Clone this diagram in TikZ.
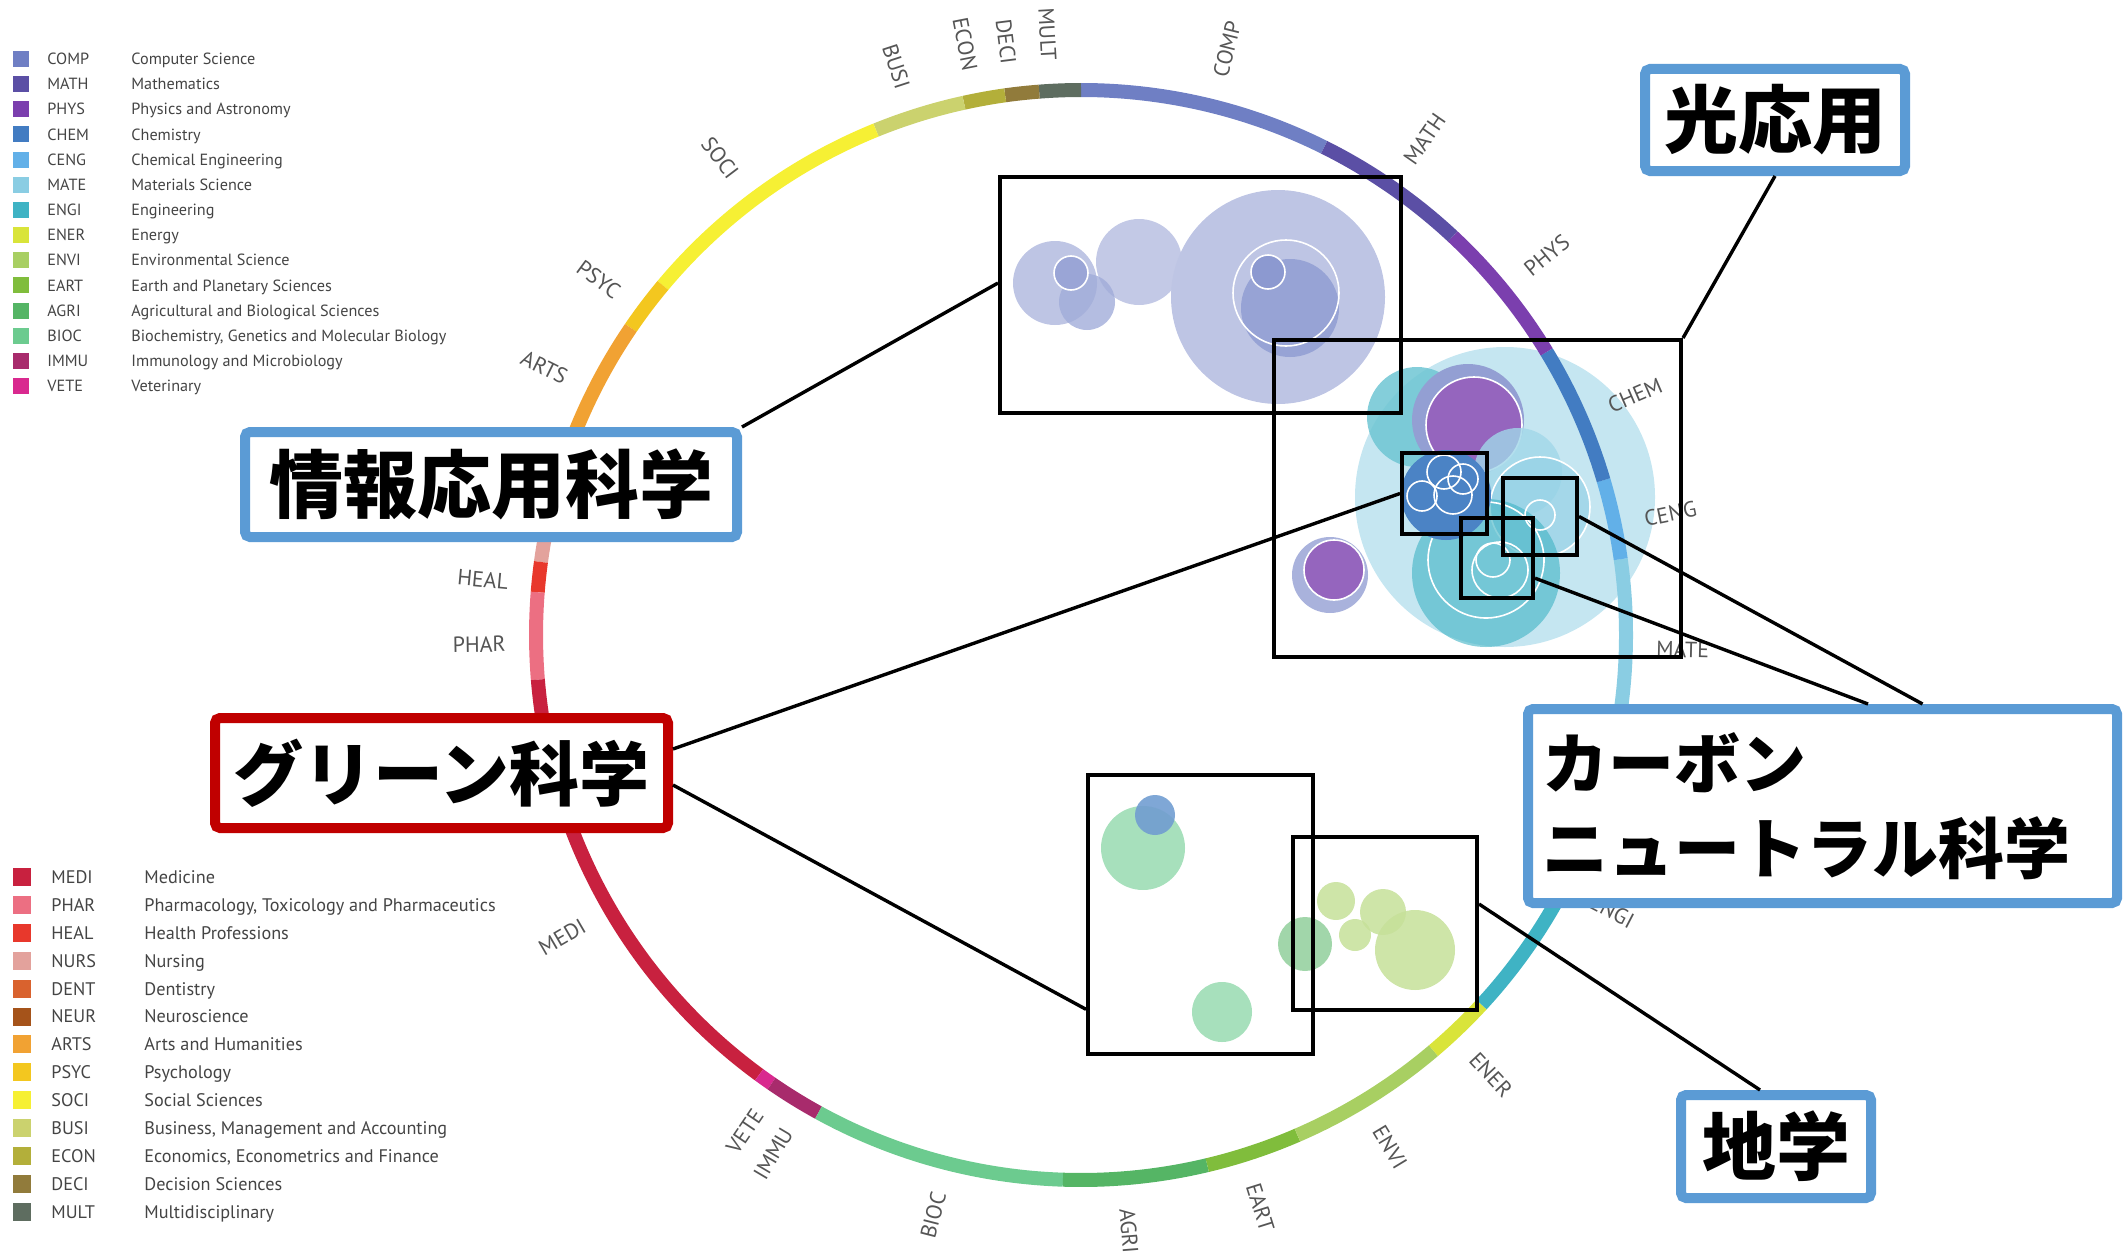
\documentclass[tikz,border=0pt]{standalone}
\usepackage{fontspec}
\setmainfont{PT Sans}
\newfontfamily\cjk{Noto Sans CJK JP}
\usetikzlibrary{calc}
\definecolor{cCOMP}{HTML}{6F7FC4}
\definecolor{cMATH}{HTML}{5B4FA5}
\definecolor{cPHYS}{HTML}{7B3FAE}
\definecolor{cCHEM}{HTML}{427CC2}
\definecolor{cCENG}{HTML}{62B0E8}
\definecolor{cMATE}{HTML}{8ACDE3}
\definecolor{cENGI}{HTML}{3FB3C4}
\definecolor{cENER}{HTML}{D9E43A}
\definecolor{cENVI}{HTML}{A8CF62}
\definecolor{cEART}{HTML}{80BD3C}
\definecolor{cAGRI}{HTML}{55B565}
\definecolor{cBIOC}{HTML}{6CCB8F}
\definecolor{cIMMU}{HTML}{A82B6C}
\definecolor{cVETE}{HTML}{D9298F}
\definecolor{cMEDI}{HTML}{C8213F}
\definecolor{cPHAR}{HTML}{EC6F82}
\definecolor{cHEAL}{HTML}{E8382C}
\definecolor{cNURS}{HTML}{E3A29C}
\definecolor{cDENT}{HTML}{D9622E}
\definecolor{cNEUR}{HTML}{A5531A}
\definecolor{cARTS}{HTML}{F1A233}
\definecolor{cPSYC}{HTML}{F3C71F}
\definecolor{cSOCI}{HTML}{F6F034}
\definecolor{cBUSI}{HTML}{CBD26E}
\definecolor{cECON}{HTML}{B3AF3A}
\definecolor{cDECI}{HTML}{917B3B}
\definecolor{cMULT}{HTML}{5E6D60}
\definecolor{legtext}{HTML}{444444}
\definecolor{labgray}{HTML}{555555}
\definecolor{boxblue}{HTML}{5B9BD5}
\definecolor{boxred}{HTML}{C00000}
\begin{document}
\begin{tikzpicture}[x=0.5pt, y=-0.5pt,
  lsq/.style={minimum size=8pt, inner sep=0pt},
  lsqb/.style={minimum size=9pt, inner sep=0pt},
  ltxt/.style={anchor=west, inner sep=0pt, text=legtext, font=\fontsize{8.1}{9}\selectfont, text height=5.7pt, text depth=0pt},
  ltxtb/.style={anchor=west, inner sep=0pt, text=legtext, font=\fontsize{9.1}{10}\selectfont, text height=6.4pt, text depth=0pt},
  rlab/.style={inner sep=0pt, text=labgray, font=\fontsize{11}{12}\selectfont, text height=7.7pt, text depth=0pt},
  zbox/.style={draw=black, line width=2pt, inner sep=0pt},
  conn/.style={draw=black, line width=1.7pt},
  jbox/.style={draw=boxblue, line width=5pt, fill=white, rounded corners=2.5pt, inner sep=0pt},
  wl/.style={draw=white, line width=0.8pt},
]
\useasboundingbox (0,0) rectangle (2124,1252);

% ---------- legends ----------
\foreach \c/\n [count=\i from 0] in {COMP/Computer Science, MATH/Mathematics, PHYS/Physics and Astronomy, CHEM/Chemistry, CENG/Chemical Engineering, MATE/Materials Science, ENGI/Engineering, ENER/Energy, ENVI/Environmental Science, EART/Earth and Planetary Sciences, AGRI/Agricultural and Biological Sciences, BIOC/{Biochemistry, Genetics and Molecular Biology}, IMMU/Immunology and Microbiology, VETE/Veterinary}{
  \node[lsq, fill=c\c] (ls\c) at (21,{59+25.15*\i}) {};
  \node[ltxt] (lc\c) at (47,{59+25.15*\i}) {\c};
  \node[ltxt] (ln\c) at (131,{59+25.15*\i}) {\n};
}
\foreach \c/\n [count=\i from 0] in {MEDI/Medicine, PHAR/{Pharmacology, Toxicology and Pharmaceutics}, HEAL/Health Professions, NURS/Nursing, DENT/Dentistry, NEUR/Neuroscience, ARTS/Arts and Humanities, PSYC/Psychology, SOCI/Social Sciences, BUSI/{Business, Management and Accounting}, ECON/{Economics, Econometrics and Finance}, DECI/Decision Sciences, MULT/Multidisciplinary}{
  \node[lsqb, fill=c\c] (ls\c) at (22,{877+27.9*\i}) {};
  \node[ltxtb] (lc\c) at (51,{877+27.9*\i}) {\c};
  \node[ltxtb] (ln\c) at (144,{877+27.9*\i}) {\n};
}

% ---------- bubbles, box A ----------
\fill[fill=cCOMP!45] (1055,283) circle[radius=42];
\fill[fill=cCOMP!42] (1139,262) circle[radius=43];
\fill[fill=cCOMP!45] (1278,297) circle[radius=107];
\fill[fill=cCOMP!65, fill opacity=0.8] (1087,302) circle[radius=28];
\filldraw[fill=cCOMP!70, wl] (1071,273) circle[radius=17];
\fill[fill=cCOMP!72] (1290,308) circle[radius=49];
\draw[wl] (1286,293) circle[radius=53];
\filldraw[fill=cCOMP!80, wl] (1268,272) circle[radius=17];

% ---------- bubbles, box B ----------
\fill[fill=cMATE!50] (1505,497) circle[radius=150];
\fill[fill=cENGI!75, fill opacity=0.85] (1417,417) circle[radius=50];
\fill[fill=cCOMP!75] (1468,420) circle[radius=56];
\filldraw[fill=cPHYS!80, wl] (1474,425) circle[radius=48];
\fill[fill=cMATE!80, fill opacity=0.8] (1518,472) circle[radius=44];
\filldraw[fill=cMATE!90, fill opacity=0.7, wl] (1540,507) circle[radius=50];
\fill[fill=cENGI, fill opacity=0.6] (1486,573) circle[radius=74];
\draw[wl] (1486,560) circle[radius=58];
\fill[fill=cCHEM!95] (1446,495) circle[radius=45];
\draw[wl] (1422,496) circle[radius=15];
\draw[wl] (1453,495) circle[radius=19];
\draw[wl] (1463,479) circle[radius=15];
\draw[wl] (1444,472) circle[radius=17];
\draw[wl] (1540,515) circle[radius=15];
\draw[wl] (1493,560) circle[radius=17];
\draw[wl] (1500,570) circle[radius=28];
\fill[fill=cCOMP!60] (1330,575) circle[radius=38];
\filldraw[fill=cPHYS!80, wl] (1334,570) circle[radius=30];

% ---------- bubbles, boxes F and G ----------
\fill[fill=cBIOC!60] (1143,848) circle[radius=42];
\fill[fill=cCHEM!75, fill opacity=0.9] (1155,815) circle[radius=20];
\fill[fill=cBIOC!60] (1222,1012) circle[radius=30];
\fill[fill=cAGRI!55] (1305,944) circle[radius=27];
\fill[fill=cENVI!65, fill opacity=0.85] (1336,901) circle[radius=19];
\fill[fill=cENVI!65, fill opacity=0.85] (1355,935) circle[radius=16];
\fill[fill=cENVI!65, fill opacity=0.85] (1383,912) circle[radius=23];
\fill[fill=cENVI!65, fill opacity=0.85] (1415,950) circle[radius=40];

% ---------- ring ----------
\begin{scope}[shift={(1081,635)}, yscale=-1]
\foreach \a/\b/\c in {63.5/90/COMP, 90/94.4/MULT, 94.4/98/DECI, 98/102.4/ECON, 102.4/112.1/BUSI, 112.1/140.1/SOCI, 140.1/145.7/PSYC, 145.7/161/ARTS, 161/165/NEUR, 165/168.5/DENT, 168.5/172.3/NURS, 172.3/175.5/HEAL, 175.5/184.7/PHAR, 184.7/233.8/MEDI, 233.8/235.4/VETE, 235.4/241.2/IMMU, 241.2/268.1/BIOC, 268.1/283.4/AGRI, 283.4/293.4/EART, 293.4/310.3/ENVI, 310.3/317.3/ENER, 317.3/350/ENGI, 350/368/MATE, 368/376.5/CENG, 376.5/391.3/CHEM, 391.3/407/PHYS, 407/423.5/MATH}{
  \draw[line width=7pt, c\c] (\a:545) arc[start angle=\a, end angle=\b, radius=545];
}
\foreach \t/\c in {76/COMP, 55.3/MATH, 39.2/PHYS, 23.4/CHEM, 11.6/CENG, -1.4/MATE, -27.5/ENGI, -47/ENER, -58.9/ENVI, -72.6/EART, -85.4/AGRI}{
  \node[rlab, anchor=west, rotate=\t] (rl\c) at (\t:575) {\c};
}
\foreach \t/\c in {210.2/MEDI, 180.9/PHAR, 174.7/HEAL, 153.5/ARTS, 143.6/PSYC, 127.1/SOCI, 108/BUSI, 101.1/ECON, 97.2/DECI, 93.2/MULT, 255.7/BIOC, 239.3/IMMU, 235.9/VETE}{
  \node[rlab, anchor=east, rotate={\t-180}] (rl\c) at (\t:575) {\c};
}
\end{scope}

% ---------- zoom boxes ----------
\node[zbox, minimum width=200.5pt, minimum height=118pt] (A) at (1200.5,295) {};
\node[zbox, minimum width=203.5pt, minimum height=158.5pt] (B) at (1477.5,498.5) {};
\node[zbox, minimum width=42.5pt, minimum height=40.5pt] (C) at (1444.5,493.5) {};
\node[zbox, minimum width=37pt, minimum height=38.5pt] (D) at (1540,516.5) {};
\node[zbox, minimum width=36pt, minimum height=40pt] (E) at (1497,558) {};
\node[zbox, minimum width=112.5pt, minimum height=139.5pt] (F) at (1200.5,914.5) {};
\node[zbox, minimum width=92pt, minimum height=86.5pt] (G) at (1385,923.5) {};

% ---------- labelled boxes ----------
\node[jbox, minimum width=130pt, minimum height=51pt, font=\cjk\bfseries\fontsize{37}{40}\selectfont] (hikari) at (1775,120) {光応用};
\node[jbox, minimum width=246pt, minimum height=52.5pt, font=\cjk\bfseries\fontsize{37}{40}\selectfont] (joho) at (491,484.5) {情報応用科学};
\node[jbox, draw=boxred, minimum width=226.5pt, minimum height=55pt, font=\cjk\bfseries\fontsize{35}{40}\selectfont] (green) at (441.5,773) {グリーン科学};
\node[jbox, minimum width=294.5pt, minimum height=97pt, align=left, text width=280pt, font=\cjk\bfseries\fontsize{33}{42.5}\selectfont] (carbon) at (1822.5,806) {カーボン\\ニュートラル科学};
\node[jbox, minimum width=95pt, minimum height=51.5pt, font=\cjk\bfseries\fontsize{37}{40}\selectfont] (chigaku) at (1776,1146.5) {地学};

% ---------- connectors ----------
\draw[conn] (hikari.south) -- (B.north east);
\draw[conn] (joho.north east) -- ($(A.north west)!0.45!(A.south west)$);
\draw[conn] ($(green.north east)!0.3!(green.south east)$) -- (C.west);
\draw[conn] ($(green.north east)!0.6!(green.south east)$) -- ($(F.north west)!0.835!(F.south west)$);
\draw[conn] ($(carbon.north west)!0.667!(carbon.north east)$) -- (D.east);
\draw[conn] ($(carbon.north west)!0.576!(carbon.north east)$) -- ($(E.north east)!0.74!(E.south east)$);
\draw[conn] ($(chigaku.north west)!0.42!(chigaku.north east)$) -- ($(G.north east)!0.39!(G.south east)$);
\end{tikzpicture}
\end{document}
